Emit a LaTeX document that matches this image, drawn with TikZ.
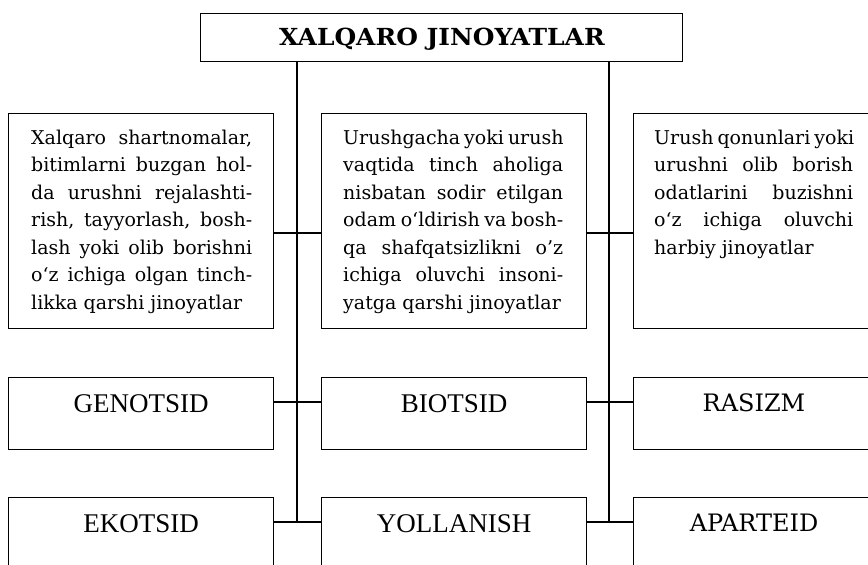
\documentclass[tikz,border=0pt]{standalone}
\usepackage{fontspec}
\setmainfont{DejaVu Serif}
\newfontfamily\timesf{Liberation Serif}
\usetikzlibrary{calc}
\newcommand{\jline}[1]{\makebox[\linewidth][s]{#1}\\}
\begin{document}
\begin{tikzpicture}[x=1pt,y=-1pt,
  box/.style={draw, line width=1.4pt, inner sep=0pt, anchor=north west},
  wide/.style={minimum width=265pt},
  conn/.style={line width=1.4pt},
  body/.style={anchor=base west, inner sep=0pt},
  lab/.style={anchor=base, inner sep=0pt}]
\useasboundingbox (0,0) rectangle (868,565);
\clip (0,0) rectangle (868,565);
\fill[white] (0,0) rectangle (868,565);

% title
\node[box, minimum width=482pt, minimum height=48pt] (title) at (200,13) {};
\node[lab] (titletext) at (442,45) {\scalebox{1.06}[1]{\bfseries\fontsize{23.5}{28}\selectfont XALQARO JINOYATLAR}};

% row 1
\node[box, wide, minimum height=215pt] (a) at (8,113) {};
\node[box, wide, minimum height=215pt] (b) at (321,113) {};
\node[box, minimum width=240pt, minimum height=215pt] (c) at (633,113) {};

\node[body] (atext) at (31,144) {\parbox[t]{221pt}{\fontsize{19}{27.5}\selectfont
\jline{Xalqaro shartnomalar,}
\jline{bitimlarni buzgan hol-}
\jline{da urushni rejalashti-}
\jline{rish, tayyorlash, bosh-}
\jline{lash yoki olib borishni}
\jline{o‘z ichiga olgan tinch-}
likka qarshi jinoyatlar}};

\node[body] (btext) at (343,144) {\parbox[t]{220pt}{\fontsize{19}{27.5}\selectfont
\jline{Urushgacha yoki urush}
\jline{vaqtida tinch aholiga}
\jline{nisbatan sodir etilgan}
\jline{odam o‘ldirish va bosh-}
\jline{qa shafqatsizlikni o’z}
\jline{ichiga oluvchi insoni-}
yatga qarshi jinoyatlar}};

\node[body] (ctext) at (654,144) {\parbox[t]{199pt}{\fontsize{19}{27.5}\selectfont
\jline{Urush qonunlari yoki}
\jline{urushni olib borish}
\jline{odatlarini buzishni}
\jline{o‘z ichiga oluvchi}
harbiy jinoyatlar}};

% row 2
\node[box, wide, minimum height=72pt] (g) at (8,377) {};
\node[box, wide, minimum height=72pt] (bi) at (321,377) {};
\node[box, minimum width=240pt, minimum height=72pt] (r) at (633,377) {};
\node[lab] at ($(g.north)+(0,35)$) {\timesf\fontsize{27}{30}\selectfont GENOTSID};
\node[lab] at ($(bi.north)+(0,35)$) {\timesf\fontsize{27}{30}\selectfont BIOTSID};
\node[lab] at (754,411) {\fontsize{24}{28}\selectfont RASIZM};

% row 3
\node[box, wide, minimum height=100pt] (e) at (8,497) {};
\node[box, wide, minimum height=100pt] (y) at (321,497) {};
\node[box, minimum width=240pt, minimum height=100pt] (ap) at (633,497) {};
\node[lab] at ($(e.north)+(0,35)$) {\timesf\fontsize{27}{30}\selectfont EKOTSID};
\node[lab] at ($(y.north)+(0,35)$) {\timesf\fontsize{27}{30}\selectfont YOLLANISH};
\node[lab] at (754,531) {\fontsize{24}{28}\selectfont APARTEID};

% connectors
\coordinate (v1) at (297,522);
\coordinate (v2) at (609,522);
\coordinate (h1) at (297,233);
\coordinate (h2) at (297,402);
\draw[conn] (title.south -| v1) -- (v1);
\draw[conn] (title.south -| v2) -- (v2);
\draw[conn] (a.east |- h1) -- (b.west |- h1);
\draw[conn] (b.east |- h1) -- (c.west |- h1);
\draw[conn] (g.east |- h2) -- (bi.west |- h2);
\draw[conn] (bi.east |- h2) -- (r.west |- h2);
\draw[conn] (e.east |- v1) -- (y.west |- v1);
\draw[conn] (y.east |- v1) -- (ap.west |- v1);
\end{tikzpicture}
\end{document}
